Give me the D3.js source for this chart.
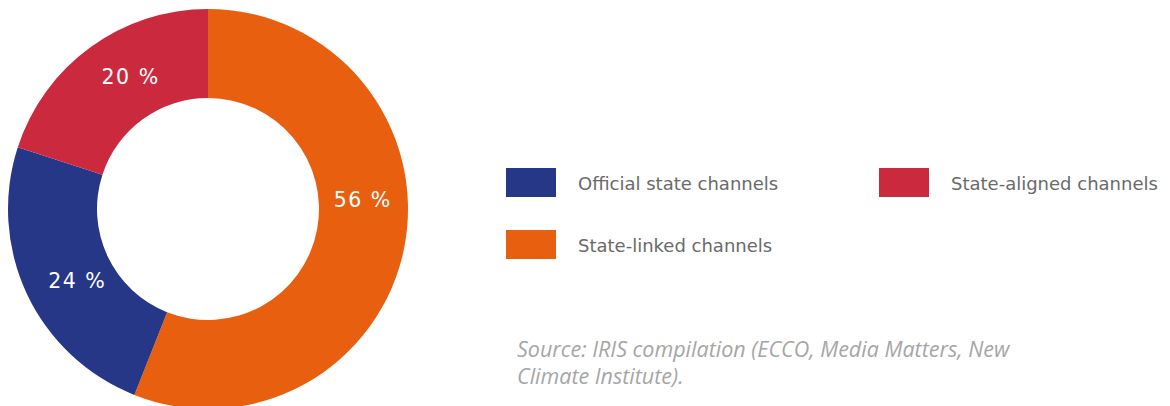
<!DOCTYPE html>
<html>
<head>
<meta charset="utf-8">
<script src="https://cdn.jsdelivr.net/npm/d3@7"></script>
<style>
  html, body { margin: 0; padding: 0; background: #fff; }
  svg { display: block; }
</style>
</head>
<body>
<svg id="chart" width="1170" height="406"></svg>
<script>
// Share of channels by type (percent)
const categories = ["State-linked channels", "Official state channels", "State-aligned channels"];
const shares = [56, 24, 20];
const colors = ["#E8600F", "#263788", "#CB2A3E"];
// Label nudges (px) relative to each slice centroid
const labelNudgeX = [2, 10, 14];
const labelNudgeY = [-38, 6, -6];

// Legend layout: order and grid cell for each entry
const legendOrder = ["Official state channels", "State-aligned channels", "State-linked channels"];
const legendCol = [0, 1, 0];
const legendRow = [0, 0, 1];

const sourceLines = ["Source: IRIS compilation (ECCO, Media Matters, New", "Climate Institute)."];

const svg = d3.select("#chart");

const cx = 208, cy = 209, outerR = 200, innerR = 111;

const pie = d3.pie().sort(null).value(d => d.value);
const data = categories.map((c, i) => ({ name: c, value: shares[i], color: colors[i], i }));
const arcs = pie(data);
const arc = d3.arc().innerRadius(innerR).outerRadius(outerR);

const g = svg.append("g").attr("transform", `translate(${cx},${cy})`);

g.selectAll("path.slice")
  .data(arcs)
  .join("path")
  .attr("class", "slice")
  .attr("d", arc)
  .attr("fill", d => d.data.color);

g.selectAll("text.pct")
  .data(arcs)
  .join("text")
  .attr("class", "pct")
  .attr("x", d => arc.centroid(d)[0] + labelNudgeX[d.data.i])
  .attr("y", d => arc.centroid(d)[1] + labelNudgeY[d.data.i])
  .attr("text-anchor", "middle")
  .attr("dominant-baseline", "central")
  .attr("fill", "#fff")
  .attr("font-family", "'DejaVu Sans', sans-serif")
  .attr("font-size", 20.5)
  .attr("letter-spacing", 1.5)
  .text(d => `${d.data.value} %`);

// Legend
const legendX = d3.scaleOrdinal().domain([0, 1]).range([506, 879]);
const legendY = d3.scaleOrdinal().domain([0, 1]).range([168, 230]);

const legend = svg.append("g");
legendOrder.forEach((name, k) => {
  const idx = categories.indexOf(name);
  const x = legendX(legendCol[k]), y = legendY(legendRow[k]);
  legend.append("rect")
    .attr("x", x).attr("y", y)
    .attr("width", 50).attr("height", 29)
    .attr("fill", colors[idx]);
  legend.append("text")
    .attr("x", x + 72)
    .attr("y", y + 15)
    .attr("dominant-baseline", "central")
    .attr("fill", "#6A6A6A")
    .attr("font-family", "'DejaVu Sans', sans-serif")
    .attr("font-size", 18)
    .text(name);
});

// Source note
svg.append("g")
  .selectAll("text")
  .data(sourceLines)
  .join("text")
  .attr("x", 517)
  .attr("y", (d, i) => 357 + i * 27)
  .attr("fill", "#A6A6A6")
  .attr("font-family", "'Open Sans', sans-serif")
  .attr("font-style", "italic")
  .attr("font-size", 21.5)
  .text(d => d);
</script>
</body>
</html>
